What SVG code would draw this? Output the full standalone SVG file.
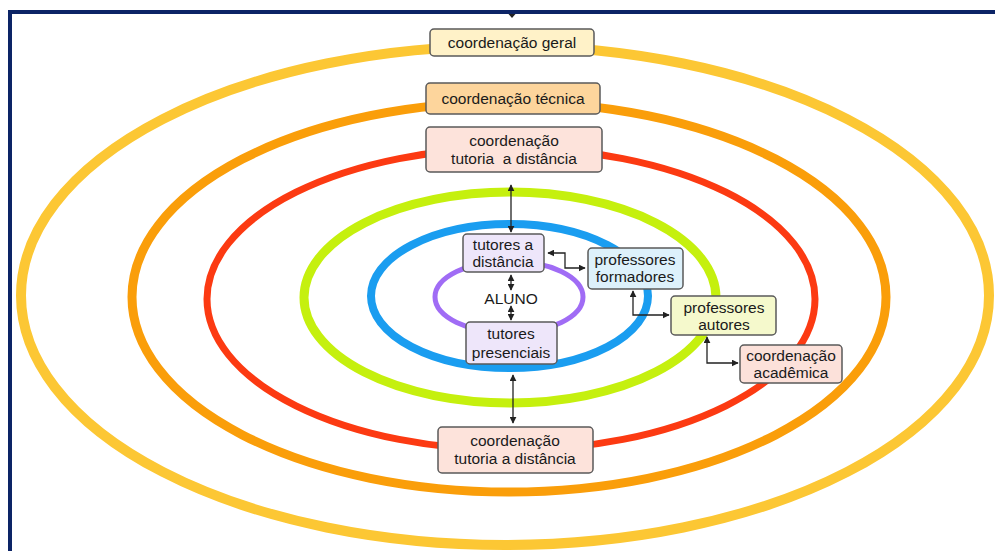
<svg xmlns="http://www.w3.org/2000/svg" width="995" height="551" viewBox="0 0 995 551">
<defs>
<marker id="ah" viewBox="0 0 10 10" refX="9" refY="5" markerWidth="7" markerHeight="7" orient="auto-start-reverse" markerUnits="userSpaceOnUse">
<path d="M0,0 L10,5 L0,10 z" fill="#222"/>
</marker>
<style>
.ring{fill:none}
.box{stroke:#5a5a5a;stroke-width:1.5}
text{font-family:"Liberation Sans","DejaVu Sans",sans-serif;font-size:15.5px;fill:#1a1a1a;text-anchor:middle}
.con{fill:none;stroke:#222;stroke-width:1.3;marker-start:url(#ah);marker-end:url(#ah)}
</style>
</defs>
<rect width="995" height="551" fill="#fff"/>
<g id="frame">
<path d="M10,551 V12 H995" fill="none" stroke="#0c2466" stroke-width="4"/>
<path d="M508.5,14 L515.5,14 L512,18 z" fill="#222"/>
</g>
<g id="rings">
<ellipse class="ring" cx="505" cy="295.5" rx="484" ry="249.5" stroke="#fcc734" stroke-width="10"/>
<ellipse class="ring" cx="509" cy="297" rx="377" ry="195" stroke="#fa9e0a" stroke-width="9"/>
<ellipse class="ring" cx="511" cy="299" rx="304" ry="151" stroke="#fc3a12" stroke-width="7"/>
<ellipse class="ring" cx="510" cy="297.5" rx="206" ry="105.5" stroke="#c5f00e" stroke-width="9"/>
<ellipse class="ring" cx="509.5" cy="296" rx="138.5" ry="72" stroke="#1a9df0" stroke-width="8"/>
<ellipse class="ring" cx="509" cy="297" rx="74" ry="36" stroke="#a06cf5" stroke-width="5"/>
</g>
<g id="connectors">
<path class="con" d="M511,185 V232"/>
<path class="con" d="M511,275 V290"/>
<path class="con" d="M511,306 V320"/>
<path class="con" d="M548,253 H565 V268 H585"/>
<path class="con" d="M633,291 V315 H669"/>
<path class="con" d="M707,337 V363 H738"/>
<path class="con" d="M513,375 V423"/>
</g>
<g id="n-geral">
<rect class="box" x="430" y="29" width="164" height="27" rx="4" fill="#fff2c8"/>
<text x="512" y="48">coordenação geral</text>
</g>
<g id="n-tecnica">
<rect class="box" x="426" y="83" width="174" height="31" rx="4" fill="#fdd59c"/>
<text x="513" y="104">coordenação técnica</text>
</g>
<g id="n-tutoria-top">
<rect class="box" x="426" y="127" width="176" height="45" rx="4" fill="#fde3db"/>
<text x="514" y="146">coordenação</text>
<text x="514" y="164" xml:space="preserve">tutoria  a distância</text>
</g>
<g id="n-tutores-dist">
<rect class="box" x="463" y="234" width="81" height="38" rx="4" fill="#eee6fa"/>
<text x="503" y="250">tutores a</text>
<text x="503" y="267">distância</text>
</g>
<g id="n-aluno">
<text x="511" y="304">ALUNO</text>
</g>
<g id="n-tutores-pres">
<rect class="box" x="466" y="322" width="91" height="42" rx="4" fill="#eee6fa"/>
<text x="511" y="339">tutores</text>
<text x="511" y="358">presenciais</text>
</g>
<g id="n-formadores">
<rect class="box" x="588" y="248" width="95" height="41" rx="4" fill="#ddf1fb"/>
<text x="635" y="265">professores</text>
<text x="635" y="282">formadores</text>
</g>
<g id="n-autores">
<rect class="box" x="671" y="296" width="105" height="39" rx="4" fill="#f5f9cc"/>
<text x="724" y="313">professores</text>
<text x="724" y="330">autores</text>
</g>
<g id="n-academica">
<rect class="box" x="740" y="345" width="102" height="38" rx="4" fill="#fce1da"/>
<text x="791" y="361">coordenação</text>
<text x="791" y="378">acadêmica</text>
</g>
<g id="n-tutoria-bottom">
<rect class="box" x="438" y="427" width="155" height="46" rx="4" fill="#fde3db"/>
<text x="515" y="446">coordenação</text>
<text x="515" y="464">tutoria a distância</text>
</g>
</svg>
